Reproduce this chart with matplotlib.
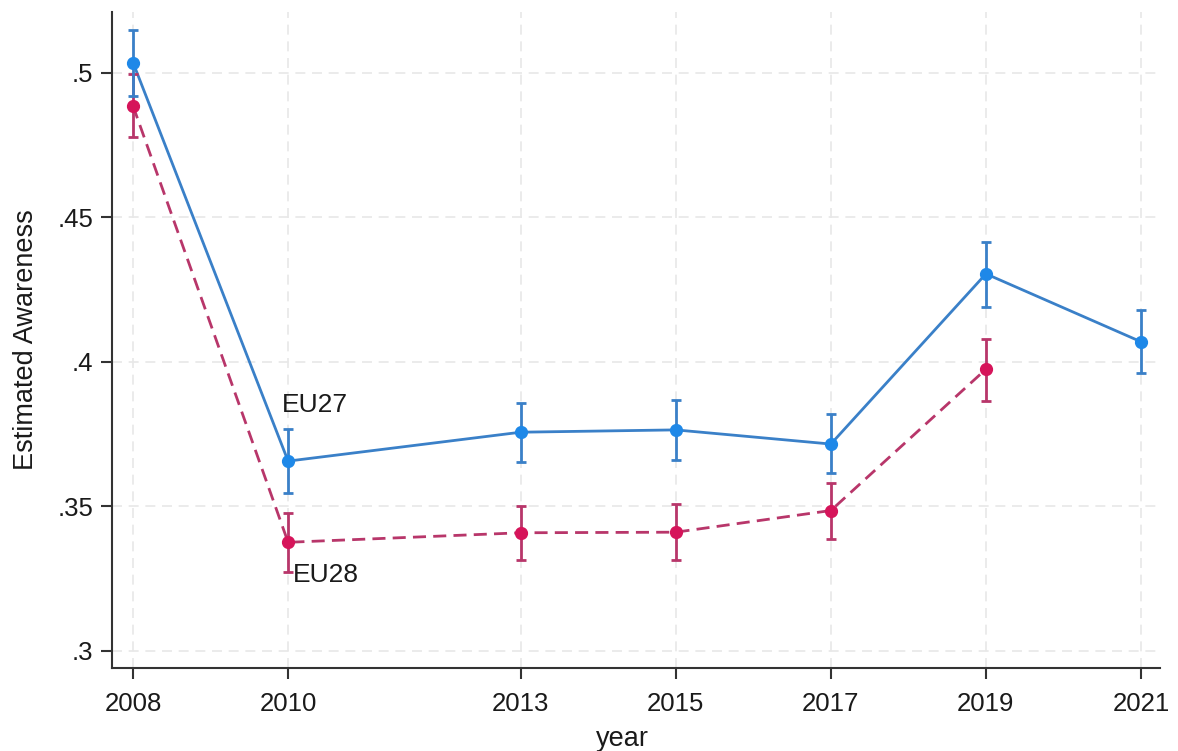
import matplotlib
matplotlib.use("Agg")
import matplotlib.pyplot as plt

plt.rcParams['font.family'] = ['Liberation Sans', 'DejaVu Sans']

years_eu27 = [2008, 2010, 2013, 2015, 2017, 2019, 2021]
est_eu27 = [0.5036, 0.3657, 0.3757, 0.3765, 0.3716, 0.4305, 0.4070]
lo_eu27 = [0.4922, 0.3546, 0.3655, 0.3661, 0.3615, 0.4191, 0.3963]
hi_eu27 = [0.5149, 0.3768, 0.3857, 0.3869, 0.3820, 0.4414, 0.4180]

years_eu28 = [2008, 2010, 2013, 2015, 2017, 2019]
est_eu28 = [0.4886, 0.3376, 0.3409, 0.3411, 0.3486, 0.3975]
lo_eu28 = [0.4780, 0.3272, 0.3314, 0.3314, 0.3388, 0.3866]
hi_eu28 = [0.4997, 0.3479, 0.3503, 0.3508, 0.3580, 0.4080]

xticks = [2008, 2010, 2013, 2015, 2017, 2019, 2021]
yticks = [0.30, 0.35, 0.40, 0.45, 0.50]
yticklabels = ['.3', '.35', '.4', '.45', '.5']

fig = plt.figure(figsize=(11.78, 7.51), dpi=100)
ax = fig.add_axes([0.0951, 0.1105, 0.8896, 0.8735])

blue_m = '#1e88e8'
blue_l = '#3a80c8'
red_m = '#d6145a'
red_l = '#b8366a'

# gridlines
for x in xticks:
    ax.axvline(x, color='#e8e8e8', lw=1.2, ls=(0, (6, 4)), zorder=0)
for y in yticks:
    ax.axhline(y, color='#e8e8e8', lw=1.2, ls=(0, (6, 4)), zorder=0)

ax.plot(years_eu28, est_eu28, color=red_l, lw=2.0, ls=(0, (4.7, 2.6)), zorder=2)
ax.errorbar(years_eu28, est_eu28,
            yerr=[[e - l for e, l in zip(est_eu28, lo_eu28)],
                  [h - e for e, h in zip(est_eu28, hi_eu28)]],
            fmt='none', ecolor=red_l, elinewidth=2.0, capsize=3.5, capthick=2.0, zorder=3)
ax.plot(years_eu28, est_eu28, 'o', color=red_m, ms=8.5, zorder=4)

ax.plot(years_eu27, est_eu27, color=blue_l, lw=2.0, zorder=2)
ax.errorbar(years_eu27, est_eu27,
            yerr=[[e - l for e, l in zip(est_eu27, lo_eu27)],
                  [h - e for e, h in zip(est_eu27, hi_eu27)]],
            fmt='none', ecolor=blue_l, elinewidth=2.0, capsize=3.5, capthick=2.0, zorder=3)
ax.plot(years_eu27, est_eu27, 'o', color=blue_m, ms=8.5, zorder=4)

ax.text(2009.92, 0.3851, 'EU27', fontsize=19, ha='left', va='center', color='#1a1a1a')
ax.text(2010.06, 0.3263, 'EU28', fontsize=19, ha='left', va='center', color='#1a1a1a')

ax.set_xlim(2007.729, 2021.245)
ax.set_ylim(0.2941, 0.5211)
ax.set_xticks(xticks)
ax.set_xticklabels([str(x) for x in xticks])
ax.set_yticks(yticks)
ax.set_yticklabels(yticklabels)

for s in ['top', 'right']:
    ax.spines[s].set_visible(False)
for s in ['left', 'bottom']:
    ax.spines[s].set_color('#333333')
    ax.spines[s].set_linewidth(1.5)
ax.tick_params(axis='both', direction='out', length=8, width=1.5, color='#333333',
               labelsize=18.5, labelcolor='#1a1a1a')
ax.tick_params(axis='x', pad=9)
ax.tick_params(axis='y', pad=5.5)

ax.set_xlabel('year', fontsize=19.5, color='#1a1a1a')
ax.set_ylabel('Estimated Awareness', fontsize=19.5, color='#1a1a1a')
ax.xaxis.set_label_coords(0.4866, -0.0884)
ax.yaxis.set_label_coords(-0.0697, 0.5)

fig.savefig('out.png', dpi=100, facecolor='white')
